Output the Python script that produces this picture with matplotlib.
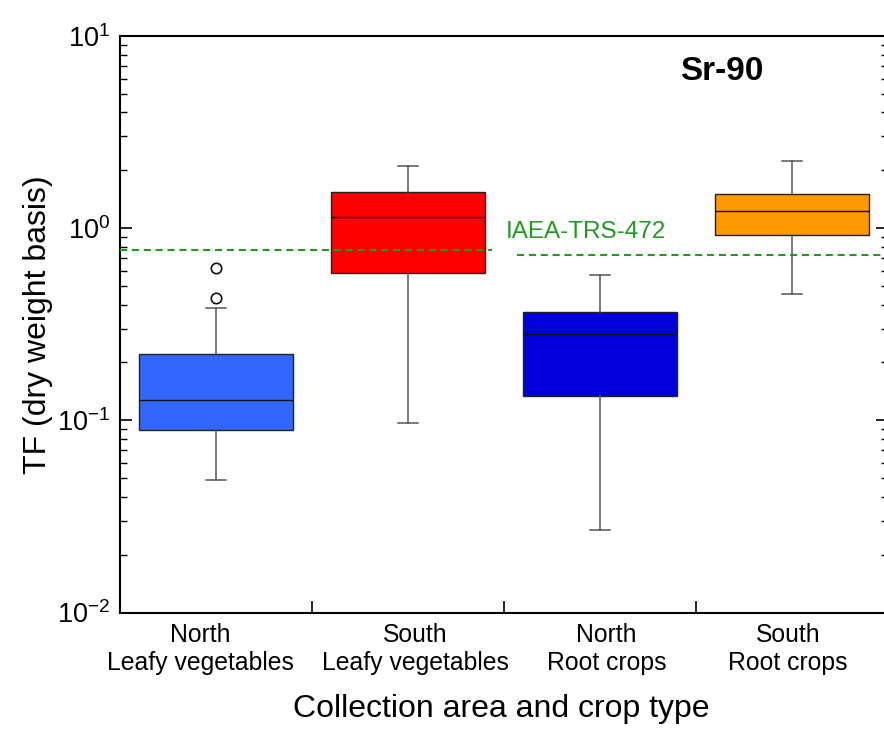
import matplotlib
matplotlib.use('Agg')
import matplotlib.pyplot as plt
from matplotlib.ticker import LogLocator, NullFormatter, FixedLocator

plt.rcParams['font.family'] = ['Liberation Sans', 'DejaVu Sans']
plt.rcParams['mathtext.fontset'] = 'custom'
plt.rcParams['mathtext.rm'] = 'Liberation Sans'
plt.rcParams['mathtext.it'] = 'Liberation Sans:italic'
plt.rcParams['mathtext.bf'] = 'Liberation Sans:bold'

# Transfer factors of Sr-90 by collection area and crop type
areas = ['North', 'South', 'North', 'South']
crops = ['Leafy vegetables', 'Leafy vegetables', 'Root crops', 'Root crops']
whisker_low = [0.049, 0.097, 0.0268, 0.455]
q1 = [0.0895, 0.582, 0.134, 0.922]
median = [0.127, 1.14, 0.280, 1.224]
q3 = [0.221, 1.55, 0.368, 1.506]
whisker_high = [0.384, 2.11, 0.573, 2.23]
outliers = [[0.432, 0.618], [], [], []]
box_colors = ['#3366FF', '#FF0000', '#0000DD', '#FF9900']

# IAEA-TRS-472 reference values (leafy vegetables, root crops)
iaea_leafy = 0.773
iaea_root = 0.725

fig = plt.figure(figsize=(8.84, 7.33), dpi=100)
ax = fig.add_axes([120 / 884, 1 - 612.5 / 733, 768 / 884, 576.5 / 733])

positions = [1, 2, 3, 4]
# category labels sit slightly off the box centres
label_offsets = [-0.08, 0.04, 0.035, -0.02]

stats = []
for i in range(len(positions)):
    stats.append(dict(med=median[i], q1=q1[i], q3=q3[i],
                      whislo=whisker_low[i], whishi=whisker_high[i],
                      fliers=outliers[i]))

bp = ax.bxp(stats, positions=positions, widths=0.8, patch_artist=True,
            capwidths=0.104,
            boxprops=dict(edgecolor='#222222', linewidth=1.0),
            whiskerprops=dict(color='#555555', linewidth=1.1),
            capprops=dict(color='#555555', linewidth=1.1),
            medianprops=dict(color='#111111', linewidth=1.0),
            flierprops=dict(marker='o', markerfacecolor='none',
                            markeredgecolor='#111111', markersize=7.5,
                            markeredgewidth=1.2))
for patch, c in zip(bp['boxes'], box_colors):
    patch.set_facecolor(c)

dash = (0, (3.4, 2.3))
ax.plot([0.5, 2.44], [iaea_leafy, iaea_leafy], color='#229922', lw=1.5,
        linestyle=dash, zorder=5)
ax.plot([2.566, 4.5], [iaea_root, iaea_root], color='#229922', lw=1.5,
        linestyle=dash, zorder=5)
ax.text(2.51, 0.95, 'IAEA-TRS-472', color='#229922', fontsize=17.5,
        ha='left', va='center')

ax.text(0.729, 0.9376, 'Sr-90', transform=ax.transAxes, fontsize=24,
        fontweight='bold', ha='left', va='center')

ax.set_yscale('log')
ax.set_ylim(0.01, 10)
ax.set_xlim(0.5, 4.5)

ax.yaxis.set_major_locator(LogLocator(base=10, numticks=10))
ax.yaxis.set_minor_locator(LogLocator(base=10, subs=range(2, 10), numticks=20))
ax.yaxis.set_minor_formatter(NullFormatter())
ax.tick_params(axis='y', which='major', direction='in', length=8.6, width=1.2,
               right=True, labelsize=19.5, pad=7)
ax.tick_params(axis='y', which='minor', direction='in', length=5, width=1.0,
               right=True)

ax.set_xticks([p + o for p, o in zip(positions, label_offsets)])
ax.set_xticklabels([f'{a}\n{c}' for a, c in zip(areas, crops)],
                   linespacing=1.25)
ax.xaxis.set_minor_locator(FixedLocator([1.5, 2.5, 3.5]))
ax.tick_params(axis='x', which='major', length=0, labelsize=17.8, pad=7.2)
ax.tick_params(axis='x', which='minor', direction='in', length=8.6, width=1.2,
               top=False)

for s in ax.spines.values():
    s.set_linewidth(1.5)

ax.set_xlabel('Collection area and crop type', fontsize=23)
ax.set_ylabel('TF (dry weight basis)', fontsize=23)
ax.xaxis.set_label_coords(0.497, -0.141)
ax.yaxis.set_label_coords(-0.087, 0.5)

fig.savefig('out.png', dpi=100)
